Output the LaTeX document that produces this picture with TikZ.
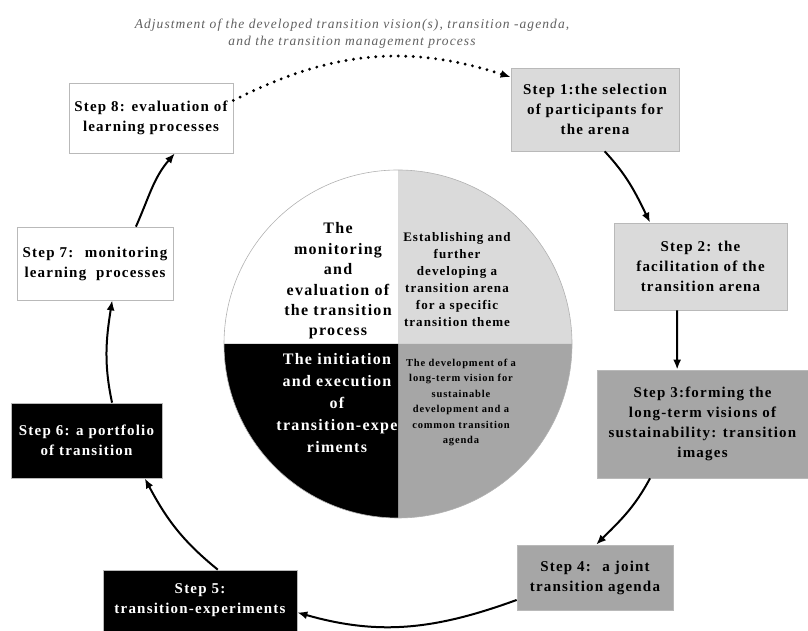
\documentclass[tikz,border=0pt]{standalone}
\usepackage{fontspec}
\setmainfont{Liberation Serif}
\newfontfamily\stepfont[LetterSpace=8]{Liberation Serif}
\usetikzlibrary{arrows.meta}
\definecolor{paleGray}{HTML}{DADADA}
\definecolor{midGray}{HTML}{A6A6A6}
\definecolor{noteGray}{HTML}{606060}

\begin{document}
\begin{tikzpicture}
[x=1pt,y=1pt,%
  stepDecorate/.style={shape=rectangle,draw=gray!55,line width=0.7pt,inner sep=2pt,align=center,font=\stepfont\bfseries\fontsize{15}{20}\selectfont},%
  coreDecorate/.style={align=center,inner sep=0pt},%
  arrowDecorate/.style={-{Latex[length=10pt,width=8pt]},line width=2pt},%
  dotDecorate/.style={-{Latex[length=10pt,width=8pt]},line width=3.2pt,line cap=round,dash pattern=on 0pt off 7.5pt}]
\useasboundingbox (0,0) rectangle (808,631);
%% the circle in the middle
\coordinate (core) at (398,287);
\fill[paleGray] (core) -- ++(0,174) arc[start angle=90,end angle=0,radius=174] -- cycle;
\fill[midGray] (core) -- ++(174,0) arc[start angle=0,end angle=-90,radius=174] -- cycle;
\fill[black] (core) -- ++(0,-174) arc[start angle=270,end angle=180,radius=174] -- cycle;
\draw[gray!60,line width=0.6pt] (core) circle[radius=174];
\node (monitorText) at (338,350) [coreDecorate,font=\stepfont\bfseries\fontsize{16}{20.4}\selectfont]
  {The\\monitoring\\and\\evaluation of\\the transition\\process};
\node (arenaText) at (457,351) [coreDecorate,font=\stepfont\bfseries\fontsize{13}{17}\selectfont]
  {Establishing and\\further\\developing a\\transition arena\\for a specific\\transition theme};
\node (experimentText) at (337,227.5) [coreDecorate,text=white,font=\stepfont\bfseries\fontsize{16}{22}\selectfont]
  {The initiation\\and execution\\of\\transition-expe\\riments};
\node (visionText) at (461,228.5) [coreDecorate,font=\stepfont\bfseries\fontsize{10.5}{15.5}\selectfont]
  {The development of a\\long-term vision for\\sustainable\\development and a\\common transition\\agenda};
%% note on top
\node (adjustNote) at (352,597.5) [coreDecorate,text=noteGray,font=\stepfont\itshape\fontsize{13.5}{17}\selectfont]
  {Adjustment of the developed transition vision(s), transition -agenda,\\and the transition management process};
%% steps
\foreach \nodename/\x/\y/\w/\h/\shade/\ink/\steptext in {
  s1/595/521.5/168/83/paleGray/black/{Step 1:the selection\\of participants for\\the arena},
  s2/700.5/364.5/173/87/paleGray/black/{Step 2: the\\facilitation of the\\transition arena},
  s3/702.5/207/211/108/midGray/black/{Step 3:forming the\\long-term visions of\\sustainability: transition\\images},
  s4/595/53.5/156/65/midGray/black/{Step 4:~ a joint\\transition agenda},
  s5/200/30.5/194/61/black/white/{Step 5:\\transition-experiments},
  s6/86.5/190.5/151/75/black/white/{Step 6: a portfolio\\of transition},
  s7/95/367.5/156/73/white/black/{Step 7:~ monitoring\\learning~ processes},
  s8/151/513/164/70/white/black/{Step 8: evaluation of\\learning processes}}
{
  \node (\nodename) at (\x,\y) [stepDecorate,fill=\shade,text=\ink,minimum width=\w,minimum height=\h] {\steptext};
}
%% arrows between the steps
\path
\foreach \startnode/\endnode/\leave/\enter in {
  s1.283/s2.139/-47/116, s2.242/s3.115/-90/90, s3.226/s4.88/242/45,
  s4.196/s5.353/200/-16, s5.60/s6.327/141/-62, s6.56/s7.295/102/-99,
  s7.42/s8.304/66/-131}
{
  (\startnode) edge[arrowDecorate,out=\leave,in=\enter] (\endnode)
};
\draw[dotDecorate] (s8.12) to[out=27,in=162] (s1.159);
\end{tikzpicture}
\end{document}
